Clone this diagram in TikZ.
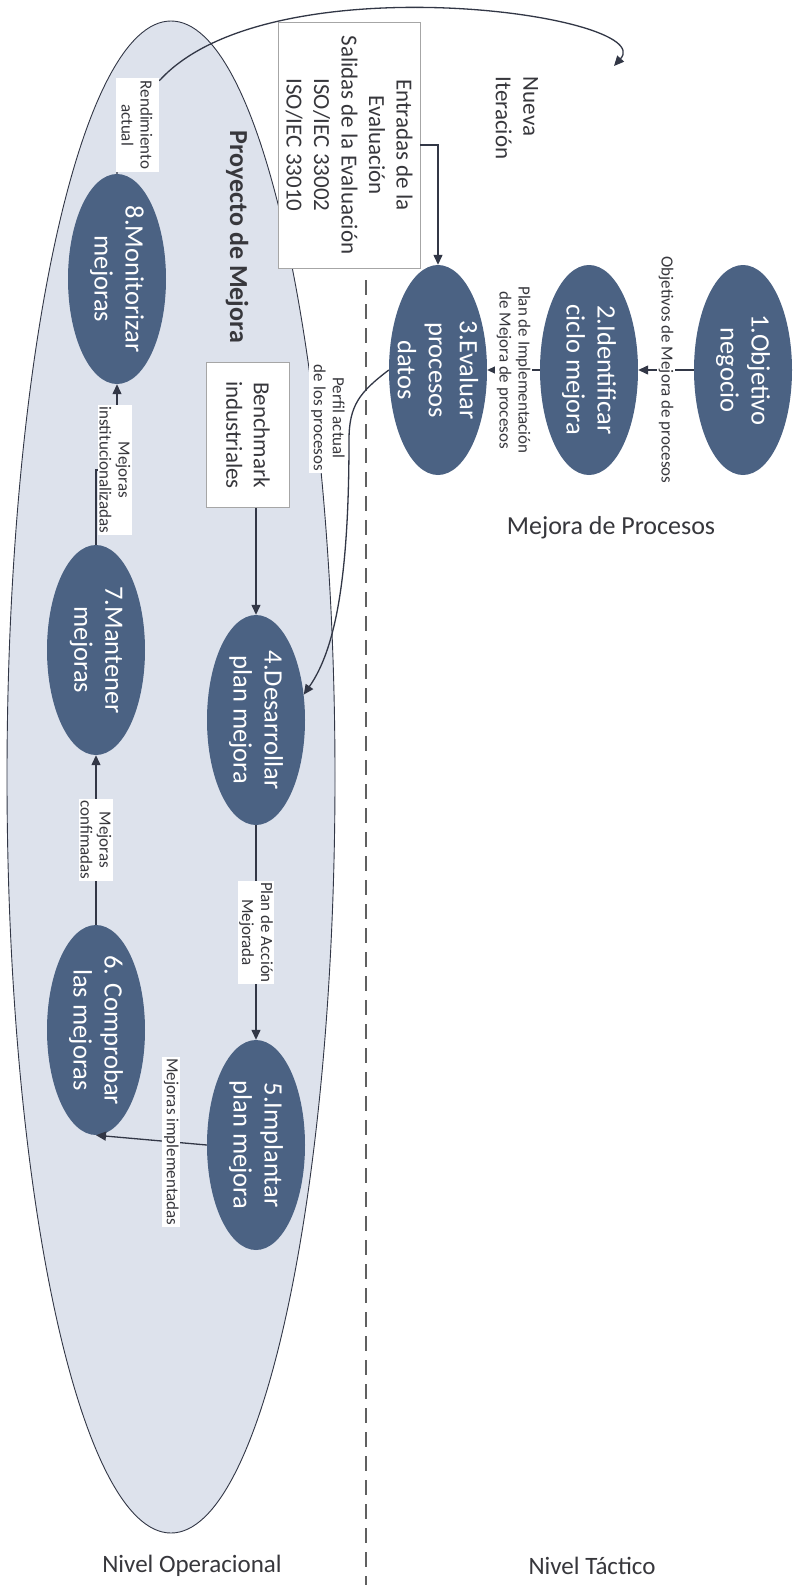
\documentclass[tikz,border=0pt]{standalone}
\usepackage{fontspec}
\setmainfont{Carlito}
\usetikzlibrary{arrows.meta,shapes.geometric}
\definecolor{procfill}{RGB}{75,98,131}
\definecolor{bigfill}{RGB}{221,226,236}
\definecolor{ink}{RGB}{50,55,70}
\definecolor{txt}{RGB}{55,55,60}
\newcommand\myNodeFont{\fontsize{26.5}{31}\selectfont}
\newcommand\myBoxFont{\fontsize{23}{27.5}\selectfont}
\newcommand\myLblFont{\fontsize{17}{19}\selectfont}
\newcommand\myTitleFont{\fontsize{26}{30}\selectfont}
\newcommand\myLevelFont{\fontsize{25}{28}\selectfont}
\begin{document}
\begin{tikzpicture}[x=1pt,y=-1pt,
  proc/.style={ellipse, fill=procfill, minimum width=98pt, minimum height=210pt, inner sep=0pt},
  proctext/.style={rotate=-90, text=white, font=\myNodeFont, align=center, inner sep=0pt},
  infobox/.style={rotate=-90, draw=gray!70, fill=white, line width=0.8pt, font=\myBoxFont, text=txt, align=center, inner sep=2pt},
  lbl/.style={rotate=-90, fill=white, font=\myLblFont, text=txt, align=center, inner sep=1.5pt},
  arr/.style={draw=ink, line width=1.3pt, -{Triangle[length=10pt,width=9pt]}},
  title/.style={font=\myTitleFont, text=txt},
  level/.style={font=\myLevelFont, text=txt, inner sep=0pt},
]
\useasboundingbox (0,0) rectangle (794,1585);
\fill[white] (0,0) rectangle (794,1585);

% operational project ellipse
\node[ellipse, draw=ink, fill=bigfill, line width=0.9pt, minimum width=328pt, minimum height=1512pt, inner sep=0pt] (proj) at (171,777) {};

% dashed separator
\coordinate (dtop) at (366,280);
\coordinate (dbot) at (366,1585);
\draw[gray!75!black, line width=2pt, dash pattern=on 15pt off 9pt] (dtop) -- (dbot);

% info boxes
\node[infobox, minimum width=246pt, minimum height=142pt] (inbox) at (349,145)
  {Entradas de la\\Evaluación\\Salidas de la Evaluación\\ISO/IEC 33002\\ISO/IEC 33010};
\node[infobox, minimum width=145pt, minimum height=83pt] (bench) at (248,435)
  {Benchmark\\industriales};

% process nodes
\node[proc] (n1) at (743,370) {};
\node[proc] (n2) at (589,370) {};
\node[proc] (n3) at (438,370) {};
\node[proc] (n4) at (256,720) {};
\node[proc] (n5) at (256,1145) {};
\node[proc] (n6) at (96,1030) {};
\node[proc] (n7) at (96,650) {};
\node[proc] (n8) at (117,279) {};
\node[proctext] at (n1) {1.Objetivo\\negocio};
\node[proctext] at (n2) {2.Identificar\\ciclo mejora};
\node[proctext] at (n3) {3.Evaluar\\procesos\\datos};
\node[proctext] at (n4) {4.Desarrollar\\plan mejora};
\node[proctext] at (n5) {5.Implantar\\plan mejora};
\node[proctext] at (n6) {6. Comprobar\\las mejoras};
\node[proctext] at (n7) {7.Mantener\\mejoras};
\node[proctext] at (n8) {8.Monitorizar\\mejoras};

% connectors
\draw[arr] (n1) -- node[lbl]{Objetivos de Mejora de procesos} (n2);
\draw[arr] (n2) -- node[lbl]{Plan de Implementación\\de Mejora de procesos} (n3);
\draw[arr] (inbox) -| (n3);
\draw[arr] (n3.west) .. controls (360,392) and (349,405) .. (349,440)
  .. controls (349,580) and (335,650) .. (n4.28);
\node[lbl, minimum width=110pt, minimum height=39pt] (perf) at (328,418) {Perfil actual\\de los procesos};
\draw[arr] (n4 |- bench.east) -- (n4);
\draw[arr] (n4) -- node[lbl]{Plan de Acción\\Mejorada} (n5);
\draw[arr] (n5.west) -- node[lbl, pos=0.32]{Mejoras implementadas} (n6.south);
\draw[arr] (n6) -- node[lbl]{Mejoras\\confimadas} (n7);
\coordinate (jog) at (115,470);
\draw[arr] (n7) -- (n7 |- jog) -| (n8);
\node[lbl] (inst) at (jog) {Mejoras\\institucionalizadas};
\coordinate (iter) at (614,66);
\draw[arr] (n8) .. controls (117,120) and (130,95) .. (160,80)
  .. controls (270,-40) and (660,15) .. (iter);
\node[lbl, minimum width=94pt, minimum height=43pt] (rend) at (137,125) {Rendimiento\\actual};

% titles
\node[rotate=-90, font=\myBoxFont, text=txt, align=left] (nueva) at (517,118) {Nueva\\Iteración};
\node[rotate=-90, font=\myTitleFont\bfseries, text=txt] (ptitle) at (237,237) {Proyecto de Mejora};
\node[title] (mproc) at (611,528) {Mejora de Procesos};
\node[level] (nop) at (192,1566) {Nivel Operacional};
\node[level] (ntac) at (592,1566) {Nivel Táctico};
\end{tikzpicture}
\end{document}
